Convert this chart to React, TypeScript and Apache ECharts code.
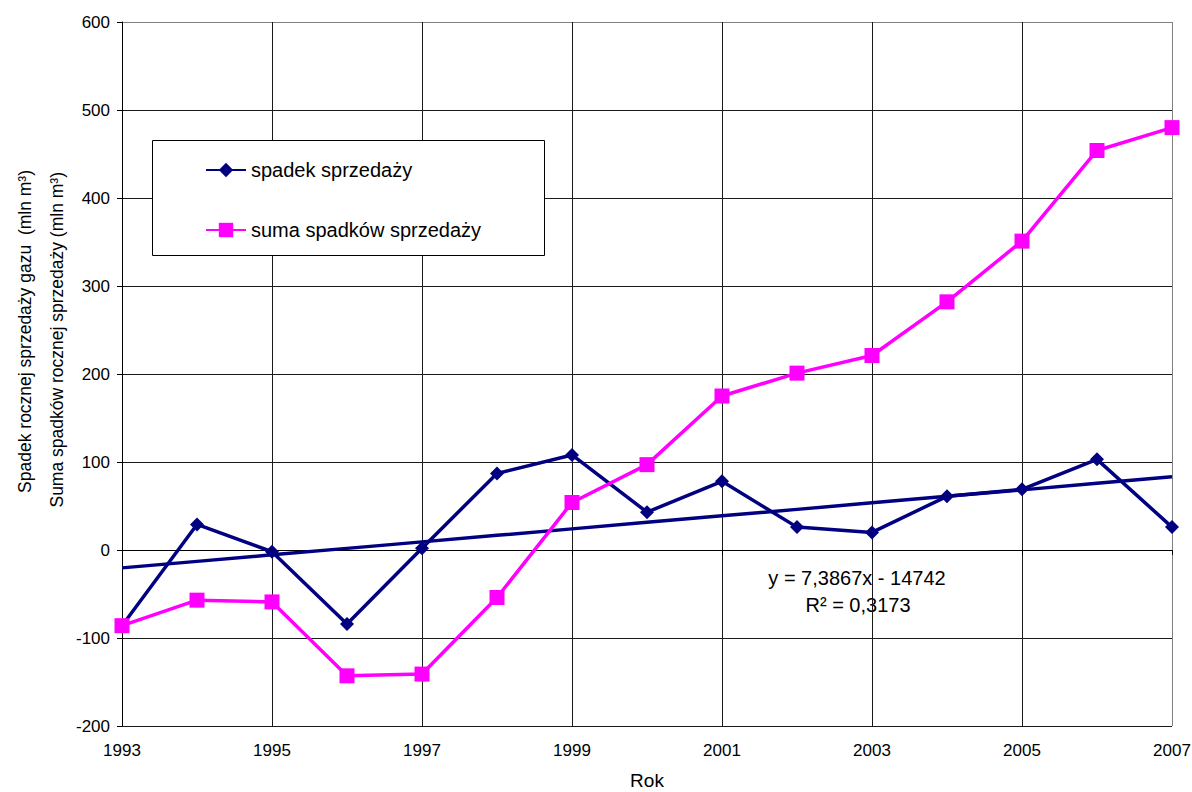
import React, { useEffect, useRef } from "react";
import * as echarts from "echarts";

// Years on the horizontal axis
const years = [
  "1993", "1994", "1995", "1996", "1997", "1998", "1999", "2000",
  "2001", "2002", "2003", "2004", "2005", "2006", "2007",
];

// Annual decrease of gas sales (mln m3)
const spadek = [-86, 29, -2, -84, 2, 87, 108, 43, 78, 26, 20, 61, 69, 103, 26];

// Cumulative sum of the annual decreases (mln m3)
const suma = [-86, -57, -59, -143, -141, -54, 54, 97, 175, 201, 221, 282, 351, 454, 480];

// Linear trend of the annual decrease: y = 7,3867x - 14742
const trendSlope = 7.3867;
const trendIntercept = -14742;
const trendText = "y = 7,3867x - 14742";
const r2Text = "R\u00B2 = 0,3173";

const yTitle1 = "Spadek rocznej sprzedaży gazu  (mln m\u00B3)";
const yTitle2 = "Suma spadków rocznej sprzedaży (mln m\u00B3)";
const xTitle = "Rok";

const FONT = "'Liberation Sans', Arial, sans-serif";
const NAVY = "#000080";
const MAGENTA = "#FF00FF";
const GRID = "#1a1a1a";

export default function App() {
  const ref = useRef<HTMLDivElement>(null);

  useEffect(() => {
    if (!ref.current) return;
    const chart = echarts.init(ref.current, null, { renderer: "svg" });

    const trend = years.map((y) => +(trendSlope * Number(y) + trendIntercept).toFixed(2));

    // dark grid lines with grey outer borders (top / right)
    const yLineColors = [GRID, GRID, GRID, GRID, GRID, GRID, GRID, GRID, "#808080"];
    const xLineColors = [GRID, GRID, GRID, GRID, GRID, GRID, GRID, "#808080"];

    chart.setOption({
      animation: false,
      backgroundColor: "#fff",
      textStyle: { fontFamily: FONT },
      grid: {
        left: 122,
        right: 20,
        top: 22,
        bottom: 66,
        containLabel: false,
        outerBoundsMode: "none",
      },
      xAxis: {
        type: "category",
        data: years,
        boundaryGap: false,
        axisLine: { show: true, lineStyle: { color: "#000", width: 1 } },
        axisTick: { show: true, interval: 1, length: 5, lineStyle: { color: "#000" } },
        axisLabel: {
          interval: 1,
          color: "#000",
          fontSize: 17,
          fontFamily: FONT,
          margin: 16,
        },
        splitLine: {
          show: true,
          interval: 1,
          lineStyle: { color: xLineColors, width: 1 },
        },
      },
      yAxis: {
        type: "value",
        min: -200,
        max: 600,
        interval: 100,
        axisLine: { show: true, lineStyle: { color: "#000", width: 1 } },
        axisTick: { show: true, length: 5, lineStyle: { color: "#000" } },
        axisLabel: { color: "#000", fontSize: 17, fontFamily: FONT, margin: 12 },
        splitLine: { show: true, lineStyle: { color: yLineColors, width: 1 } },
      },
      legend: {
        data: ["spadek sprzedaży", "suma spadków sprzedaży"],
        orient: "vertical",
        left: 205,
        top: 160,
        padding: 0,
        itemWidth: 40,
        itemHeight: 18,
        itemGap: 40,
        z: 20,
        textStyle: { fontSize: 20, color: "#000", fontFamily: FONT, lineHeight: 20 },
      },
      graphic: [
        {
          type: "rect",
          z: 10,
          shape: { x: 152.5, y: 140.5, width: 392, height: 115 },
          style: { fill: "#fff", stroke: "#000", lineWidth: 1 },
        },
        {
          type: "text",
          x: 25,
          y: 170,
          rotation: Math.PI / 2,
          style: {
            text: yTitle1,
            fontSize: 17.5,
            fontFamily: FONT,
            fill: "#000",
            align: "right",
            verticalAlign: "middle",
          },
        },
        {
          type: "text",
          x: 57,
          y: 172,
          rotation: Math.PI / 2,
          style: {
            text: yTitle2,
            fontSize: 17.5,
            fontFamily: FONT,
            fill: "#000",
            align: "right",
            verticalAlign: "middle",
          },
        },
        {
          type: "text",
          x: 647,
          y: 780,
          style: {
            text: xTitle,
            fontSize: 19,
            fontFamily: FONT,
            fill: "#000",
            align: "center",
            verticalAlign: "middle",
          },
        },
        {
          type: "text",
          x: 857,
          y: 578,
          style: {
            text: trendText,
            fontSize: 20,
            fontFamily: FONT,
            fill: "#000",
            align: "center",
            verticalAlign: "middle",
          },
        },
        {
          type: "text",
          x: 858,
          y: 605,
          style: {
            text: r2Text,
            fontSize: 20,
            fontFamily: FONT,
            fill: "#000",
            align: "center",
            verticalAlign: "middle",
          },
        },
      ],
      series: [
        {
          name: "trend",
          type: "line",
          data: trend,
          showSymbol: false,
          symbol: "none",
          lineStyle: { color: NAVY, width: 3.5 },
          itemStyle: { color: NAVY },
          z: 2,
        },
        {
          name: "spadek sprzedaży",
          type: "line",
          data: spadek,
          symbol: "diamond",
          symbolSize: 14,
          lineStyle: { color: NAVY, width: 3.5 },
          itemStyle: { color: NAVY },
          z: 3,
        },
        {
          name: "suma spadków sprzedaży",
          type: "line",
          data: suma,
          symbol: "rect",
          symbolSize: 15,
          lineStyle: { color: MAGENTA, width: 3.5 },
          itemStyle: { color: MAGENTA },
          z: 4,
        },
      ],
    });

    return () => chart.dispose();
  }, []);

  return (
    <div
      ref={ref}
      style={{ position: "fixed", left: 0, top: 0, width: 1192, height: 792 }}
    />
  );
}
